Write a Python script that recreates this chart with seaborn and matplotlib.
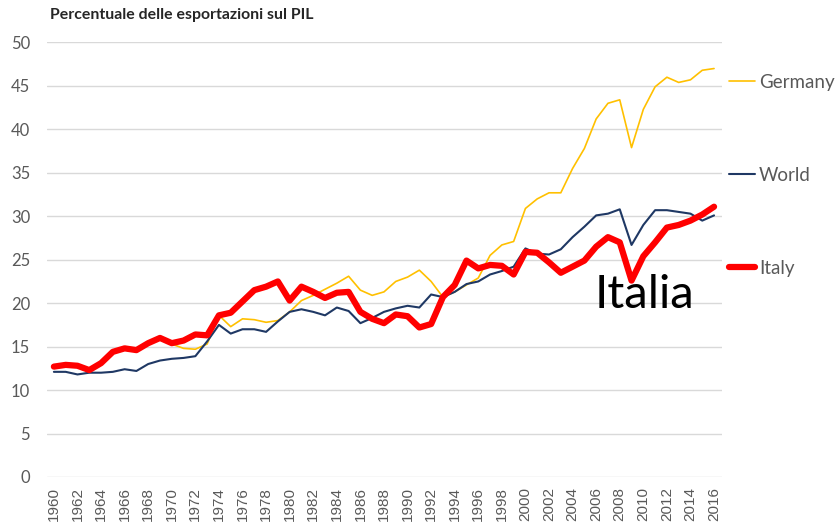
import numpy as np
import pandas as pd
import seaborn as sns
import matplotlib.pyplot as plt
from matplotlib.lines import Line2D

# Export share of GDP (%).
years = list(range(1960, 2017))

italy = [12.7, 12.9, 12.8, 12.3, 13.1, 14.4, 14.8, 14.6, 15.4, 16.0,
         15.4, 15.7, 16.4, 16.3, 18.6, 18.9, 20.2, 21.5, 21.9, 22.5,
         20.3, 21.9, 21.3, 20.6, 21.2, 21.3, 19.0, 18.2, 17.7, 18.7,
         18.5, 17.2, 17.6, 20.7, 22.1, 24.9, 24.0, 24.4, 24.3, 23.3,
         25.9, 25.8, 24.7, 23.5, 24.2, 24.9, 26.5, 27.6, 27.0, 22.6,
         25.4, 27.0, 28.7, 29.0, 29.5, 30.2, 31.1]

world = [12.1, 12.1, 11.8, 12.0, 12.0, 12.1, 12.4, 12.2, 13.0, 13.4,
         13.6, 13.7, 13.9, 15.6, 17.5, 16.5, 17.0, 17.0, 16.7, 17.9,
         19.0, 19.3, 19.0, 18.6, 19.5, 19.1, 17.7, 18.3, 19.0, 19.4,
         19.7, 19.5, 21.0, 20.7, 21.3, 22.2, 22.5, 23.3, 23.7, 24.2,
         26.3, 25.7, 25.6, 26.2, 27.6, 28.8, 30.1, 30.3, 30.8, 26.7,
         29.0, 30.7, 30.7, 30.5, 30.3, 29.5, 30.1]

# Germany series only starts in 1970
germany = [np.nan] * 10 + [
         15.3, 14.8, 14.7, 15.3, 18.6, 17.3, 18.2, 18.1, 17.8, 18.0,
         19.0, 20.3, 20.9, 21.6, 22.3, 23.1, 21.5, 20.9, 21.3, 22.5,
         23.0, 23.8, 22.5, 20.7, 21.3, 22.1, 22.9, 25.5, 26.7, 27.1,
         30.9, 32.0, 32.7, 32.7, 35.5, 37.8, 41.2, 43.0, 43.4, 37.9,
         42.3, 44.9, 46.0, 45.4, 45.7, 46.8, 47.0]

df = pd.DataFrame({'year': years, 'Germany': germany, 'World': world, 'Italy': italy})

colors = {'Germany': '#FFC000', 'World': '#1F3864', 'Italy': '#FF0000'}
widths = {'Germany': 1.2, 'World': 1.5, 'Italy': 4.5}

sns.set_style('white')
plt.rcParams['font.family'] = ['Lato', 'DejaVu Sans']

fig = plt.figure(figsize=(8.36, 5.28), dpi=100)
ax = fig.add_axes([0.056, 0.0966, 0.808, 0.823])

for name in ['Germany', 'World', 'Italy']:
    sns.lineplot(data=df.dropna(subset=[name]), x='year', y=name, ax=ax,
                 color=colors[name], linewidth=widths[name],
                 solid_capstyle='round', solid_joinstyle='round', zorder=3)

ax.set_xlim(1959.4, 2016.7)
ax.set_ylim(0, 50)
ax.set_yticks(range(0, 51, 5))
ax.set_xticks(range(1960, 2017, 2))
ax.set_xticklabels([str(y) for y in range(1960, 2017, 2)], rotation=90,
                   family='Liberation Sans', fontsize=11, color='#595959')
ax.tick_params(axis='y', labelsize=12, labelcolor='#595959', length=0, pad=12)
ax.tick_params(axis='x', length=0, pad=7)
ax.grid(axis='y', color='#D9D9D9', linewidth=1)
ax.set_axisbelow(True)
sns.despine(ax=ax, left=True, bottom=True, top=True, right=True)
ax.set_xlabel('')
ax.set_ylabel('')

fig.text(50 / 836, 1 - 15 / 528, 'Percentuale delle esportazioni sul PIL',
         fontsize=11.4, fontweight='bold', va='center', ha='left')

ax.text(2010.1, 20.9, 'Italia', ha='center', va='center', fontsize=34, color='black')

handles = [Line2D([], [], color=colors[n], linewidth=widths[n]) for n in ['Germany', 'World', 'Italy']]
fig.legend(handles, ['Germany', 'World', 'Italy'], loc='upper left',
           bbox_to_anchor=(729 / 836, 1 - 74 / 528), frameon=False,
           borderpad=0, borderaxespad=0, handlelength=1.4, handletextpad=0.2,
           labelspacing=4.05, fontsize=13.5, labelcolor='#595959')

plt.savefig('out.png', dpi=100)
